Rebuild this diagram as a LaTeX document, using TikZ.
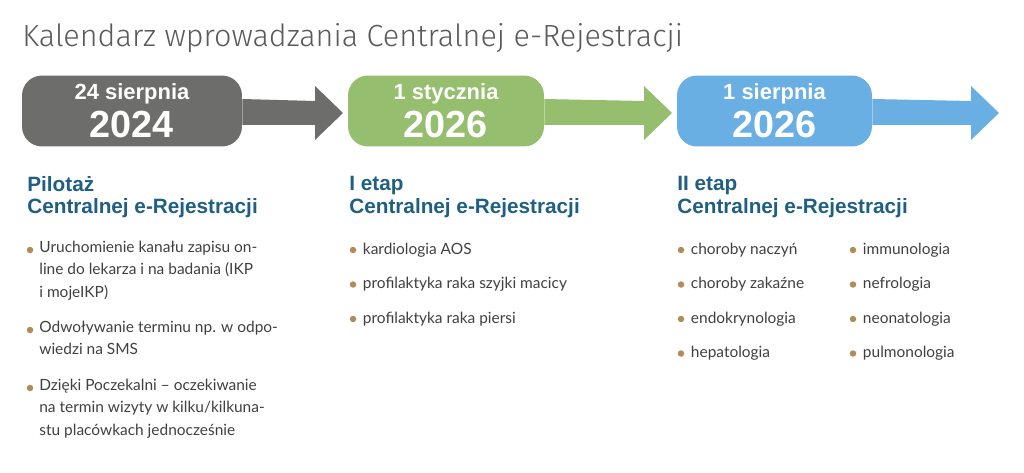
\documentclass[tikz,border=0pt]{standalone}
\usepackage{fontspec}
\setmainfont{Lato}
\newfontfamily\headfont{Liberation Sans}
\newfontfamily\titlefont{Fira Sans Light}
\usetikzlibrary{positioning, calc}
\definecolor{cer-gray}{HTML}{6D6D6B}
\definecolor{cer-green}{HTML}{95BF6E}
\definecolor{cer-blue}{HTML}{6AAFE3}
\definecolor{cer-head}{HTML}{1F5F82}
\definecolor{cer-dot}{HTML}{B08C5A}
\definecolor{cer-text}{HTML}{404040}
\definecolor{cer-title}{HTML}{5A5A5A}

\begin{document}
\begin{tikzpicture}[
    x=0.02cm, y=-0.02cm,
    datebox/.style={rectangle, rounded corners=0.4cm, minimum height=1.42cm, inner sep=0pt, text=white, align=center, font=\headfont\bfseries},
    stage/.style={anchor=north west, align=left, text=cer-head, font=\headfont\bfseries\fontsize{11.8}{12.8}\selectfont, inner sep=0pt},
    item/.style={anchor=west, align=left, text=cer-text, font=\fontsize{8.8}{12.6}\selectfont, inner sep=0pt},
    dot/.style={circle, fill=cer-dot, minimum size=0.13cm, inner sep=0pt}
]
\useasboundingbox (0,0) rectangle (1024,473);

% title
\node[anchor=west, text=cer-title, font=\titlefont\fontsize{17.4}{20}\selectfont, inner sep=0pt] (title) at (22,38) {Kalendarz wprowadzania Centralnej e-Rejestracji};

% date boxes
\node[datebox, fill=cer-gray, minimum width=4.4cm] (d1) at (132,111) {{\fontsize{12.5}{13}\selectfont 24 sierpnia}\\[3pt]{\fontsize{21.5}{16}\selectfont 2024}};
\node[datebox, fill=cer-green, minimum width=3.92cm] (d2) at (446,111) {{\fontsize{12.5}{13}\selectfont 1 stycznia}\\[3pt]{\fontsize{21.5}{16}\selectfont 2026}};
\node[datebox, fill=cer-blue, minimum width=3.9cm] (d3) at (774.5,111) {{\fontsize{12.5}{13}\selectfont 1 sierpnia}\\[3pt]{\fontsize{21.5}{16}\selectfont 2026}};

% arrows
\coordinate (t1) at (343,113);
\coordinate (t2) at (672,113);
\coordinate (t3) at (999,113);
\fill[cer-gray] ($(d1.east)+(0,-12)$) -- (315,101) -- (315,86) -- (t1) -- (315,140) -- (315,125) -- ($(d1.east)+(0,14)$) -- cycle;
\fill[cer-green] ($(d2.east)+(0,-12)$) -- (644,101) -- (644,86) -- (t2) -- (644,140) -- (644,125) -- ($(d2.east)+(0,14)$) -- cycle;
\fill[cer-blue] ($(d3.east)+(0,-12)$) -- (971,101) -- (971,86) -- (t3) -- (971,140) -- (971,125) -- ($(d3.east)+(0,14)$) -- cycle;

% stage headings
\node[stage] (s1) at (27,176) {Pilotaż\\Centralnej e-Rejestracji};
\node[stage] (s2) at (349,176) {I etap\\Centralnej e-Rejestracji};
\node[stage] (s3) at (677,176) {II etap\\Centralnej e-Rejestracji};

% stage 1 items
\node[dot] (p1) at (30,250) {};
\node[item, anchor=north west] (i1) at (39,241) {Uruchomienie kanału zapisu on-\\line do lekarza i na badania (IKP\\i mojeIKP)};
\node[dot] (p2) at (30,330) {};
\node[item, anchor=north west] (i2) at (39,321) {Odwoływanie terminu np. w odpo-\\wiedzi na SMS};
\node[dot] (p3) at (30,388) {};
\node[item, anchor=north west] (i3) at (39,379) {Dzięki Poczekalni – oczekiwanie\\na termin wizyty w kilku/kilkuna-\\stu placówkach jednocześnie};

% stage 2 items
\foreach \txt [count=\k] in {kardiologia AOS, profilaktyka raka szyjki macicy, profilaktyka raka piersi} {
  \node[dot] (q\k) at (353,{250+34.5*(\k-1)}) {};
  \node[item, right=0.12cm of q\k] (j\k) {\txt};
}

% stage 3 items
\foreach \txt [count=\k] in {choroby naczyń, choroby zakaźne, endokrynologia, hepatologia} {
  \node[dot] (r\k) at (681,{250+34.5*(\k-1)}) {};
  \node[item, right=0.12cm of r\k] (k\k) {\txt};
}
\foreach \txt [count=\k] in {immunologia, nefrologia, neonatologia, pulmonologia} {
  \node[dot] (u\k) at (853,{250+34.5*(\k-1)}) {};
  \node[item, right=0.12cm of u\k] (m\k) {\txt};
}

\end{tikzpicture}
\end{document}
